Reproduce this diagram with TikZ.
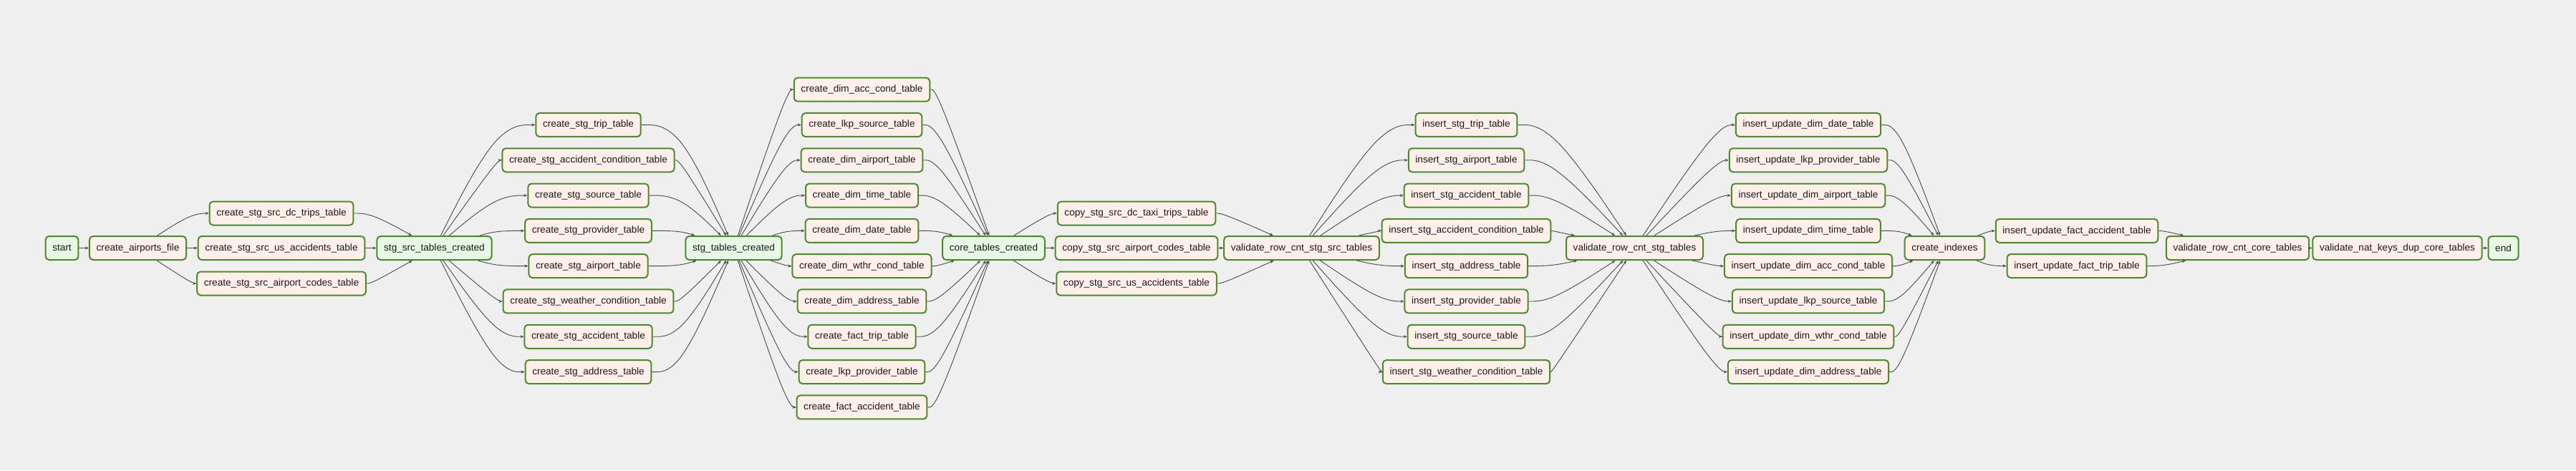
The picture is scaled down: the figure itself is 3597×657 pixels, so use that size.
\documentclass[tikz,border=0pt]{standalone}
\usepackage{fontspec}
\setmainfont{Liberation Sans}
\usetikzlibrary{calc,arrows.meta}
\definecolor{bgcol}{HTML}{EFEFEF}
\definecolor{pinkfill}{HTML}{FFEFEB}
\definecolor{greenfill}{HTML}{E8F7E4}
\definecolor{boxborder}{HTML}{4B8B2B}
\definecolor{edgecol}{HTML}{4A4A4A}
\newcommand\dagedge[3]{%
  \coordinate (eB) at #3;
  \path (#1) -- (eB) coordinate[pos=0] (eA);
  \path (eB) -- (#2) coordinate[pos=1] (eC);
  \draw[dagline] (eA) -- ($(eA)!1/6!(eB)$) .. controls ($(eA)!1/3!(eB)$) and ($(eA)!2/3!(eB)$) .. ($0.1667*(eA)+0.6666*(eB)+0.1667*(eC)$) .. controls ($(eB)!1/3!(eC)$) and ($(eB)!2/3!(eC)$) .. ($(eB)!5/6!(eC)$) -- (eC);}
\begin{document}
\begin{tikzpicture}[x=1pt,y=-1pt,
  taskbox/.style={rectangle, rounded corners=5pt, draw=boxborder, line width=2pt, fill=pinkfill,
    minimum height=33pt, inner xsep=9.7pt, inner ysep=0pt, font=\fontsize{13.6}{16}\selectfont, text=black!90},
  dummybox/.style={taskbox, fill=greenfill},
  dagline/.style={draw=edgecol, line width=0.9pt, -{Stealth[length=5pt,width=4pt]}}]
\fill[bgcol] (0,0) rectangle (3597,657);
\useasboundingbox (0,0) rectangle (3597,657);
% gap coordinates
\foreach \g/\x in {0/117,1/268,2/519,3/694,4/949.5,5/1099,6/1308.5,7/1466,8/1707.5,9/1928,10/2167,11/2398,12/2652,13/2779,14/3021,15/3227.5,16/3468}
  \coordinate (g\g) at (\x,0);
% nodes
\node[dummybox] (start) at (86.5,346.5) {start};
\node[taskbox] (caf) at (192.5,346.5) {create\_airports\_file};
\node[taskbox] (s1) at (393,298) {create\_stg\_src\_dc\_trips\_table};
\node[taskbox] (s2) at (393,346.5) {create\_stg\_src\_us\_accidents\_table};
\node[taskbox] (s3) at (393,396) {create\_stg\_src\_airport\_codes\_table};
\node[dummybox] (ssrc) at (606.5,346.5) {stg\_src\_tables\_created};
\foreach \n/\t [count=\i from 0] in {t1/create\_stg\_trip\_table, t2/create\_stg\_accident\_condition\_table, t3/create\_stg\_source\_table, t4/create\_stg\_provider\_table, t5/create\_stg\_airport\_table, t6/create\_stg\_weather\_condition\_table, t7/create\_stg\_accident\_table, t8/create\_stg\_address\_table}
  \node[taskbox] (\n) at (821.5,{347+(\i-3.5)*49.3}) {\t};
\node[dummybox] (stc) at (1024.5,346.5) {stg\_tables\_created};
\foreach \n/\t [count=\i from 0] in {c1/create\_dim\_acc\_cond\_table, c2/create\_lkp\_source\_table, c3/create\_dim\_airport\_table, c4/create\_dim\_time\_table, c5/create\_dim\_date\_table, c6/create\_dim\_wthr\_cond\_table, c7/create\_dim\_address\_table, c8/create\_fact\_trip\_table, c9/create\_lkp\_provider\_table, c10/create\_fact\_accident\_table}
  \node[taskbox] (\n) at (1203.5,{347+(\i-4.5)*49.3}) {\t};
\node[dummybox] (core) at (1387.5,346.5) {core\_tables\_created};
\node[taskbox] (p1) at (1587,298) {copy\_stg\_src\_dc\_taxi\_trips\_table};
\node[taskbox] (p2) at (1587,346.5) {copy\_stg\_src\_airport\_codes\_table};
\node[taskbox] (p3) at (1587,396) {copy\_stg\_src\_us\_accidents\_table};
\node[taskbox] (v1) at (1817.5,346.5) {validate\_row\_cnt\_stg\_src\_tables};
\foreach \n/\t [count=\i from 0] in {i1/insert\_stg\_trip\_table, i2/insert\_stg\_airport\_table, i3/insert\_stg\_accident\_table, i4/insert\_stg\_accident\_condition\_table, i5/insert\_stg\_address\_table, i6/insert\_stg\_provider\_table, i7/insert\_stg\_source\_table, i8/insert\_stg\_weather\_condition\_table}
  \node[taskbox] (\n) at (2047.5,{347+(\i-3.5)*49.3}) {\t};
\node[taskbox] (v2) at (2282.5,346.5) {validate\_row\_cnt\_stg\_tables};
\foreach \n/\t [count=\i from 0] in {u1/insert\_update\_dim\_date\_table, u2/insert\_update\_lkp\_provider\_table, u3/insert\_update\_dim\_airport\_table, u4/insert\_update\_dim\_time\_table, u5/insert\_update\_dim\_acc\_cond\_table, u6/insert\_update\_lkp\_source\_table, u7/insert\_update\_dim\_wthr\_cond\_table, u8/insert\_update\_dim\_address\_table}
  \node[taskbox] (\n) at (2525,{347+(\i-3.5)*49.3}) {\t};
\node[taskbox] (idx) at (2715.5,346.5) {create\_indexes};
\node[taskbox] (f1) at (2900,322.5) {insert\_update\_fact\_accident\_table};
\node[taskbox] (f2) at (2900,371.5) {insert\_update\_fact\_trip\_table};
\node[taskbox] (v3) at (3124.5,346.5) {validate\_row\_cnt\_core\_tables};
\node[taskbox] (v4) at (3347.5,346.5) {validate\_nat\_keys\_dup\_core\_tables};
\node[dummybox] (endn) at (3495.5,346.5) {end};
% edges
\dagedge{start}{caf}{(g0 |- start)}
\foreach \n in {s1,s2,s3} {\dagedge{caf}{\n}{(g1 |- \n)}\dagedge{\n}{ssrc}{(g2 |- \n)}}
\foreach \n in {t1,t2,t3,t4,t5,t6,t7,t8} {\dagedge{ssrc}{\n}{(g3 |- \n)}\dagedge{\n}{stc}{(g4 |- \n)}}
\foreach \n in {c1,c2,c3,c4,c5,c6,c7,c8,c9,c10} {\dagedge{stc}{\n}{(g5 |- \n)}\dagedge{\n}{core}{(g6 |- \n)}}
\foreach \n in {p1,p2,p3} {\dagedge{core}{\n}{(g7 |- \n)}\dagedge{\n}{v1}{(g8 |- \n)}}
\foreach \n in {i1,i2,i3,i4,i5,i6,i7,i8} {\dagedge{v1}{\n}{(g9 |- \n)}\dagedge{\n}{v2}{(g10 |- \n)}}
\foreach \n in {u1,u2,u3,u4,u5,u6,u7,u8} {\dagedge{v2}{\n}{(g11 |- \n)}\dagedge{\n}{idx}{(g12 |- \n)}}
\foreach \n in {f1,f2} {\dagedge{idx}{\n}{(g13 |- \n)}\dagedge{\n}{v3}{(g14 |- \n)}}
\dagedge{v3}{v4}{(g15 |- v3)}
\dagedge{v4}{endn}{(g16 |- v4)}
\end{tikzpicture}
\end{document}
